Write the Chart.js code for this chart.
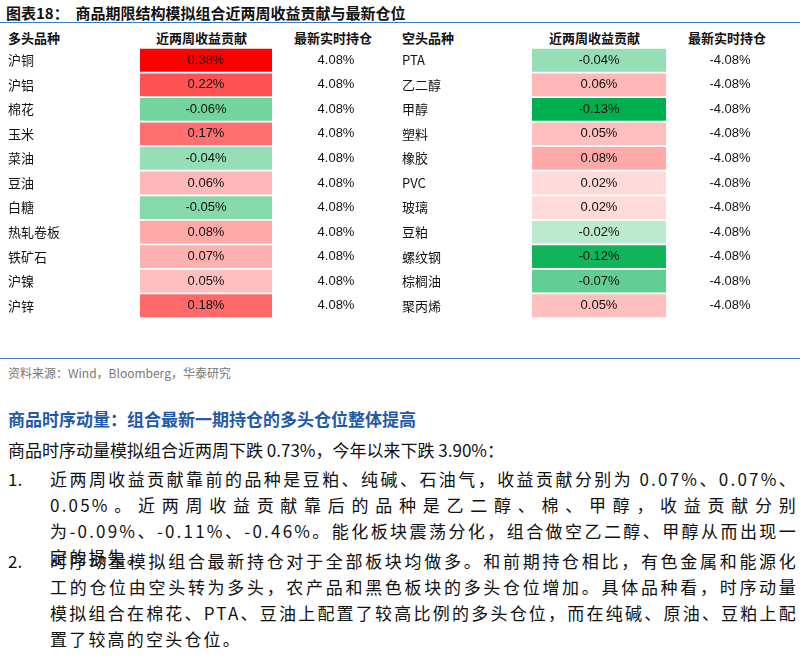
<!DOCTYPE html>
<html><head><meta charset="utf-8">
<script src="https://cdn.jsdelivr.net/npm/chart.js@4"></script>
<style>
body{margin:0;width:802px;height:663px;background:#fff;font-family:"Noto Sans CJK SC",sans-serif;position:relative;overflow:hidden}
.t{position:absolute;white-space:nowrap}
#title{left:6px;top:2px;font-size:15px;font-weight:bold;color:#111}
#tl{position:absolute;left:0;top:22px;width:800px;border-top:1.5px solid #3a7bbf}
.h{position:absolute;top:28px;font-size:13px;font-weight:bold;color:#111}
#cw{position:absolute;left:0;top:48px;width:802px;height:270px}
#sl{position:absolute;left:0;top:358px;width:800px;border-top:1px solid #4a7fc0}
#src{left:8px;top:364px;font-size:12px;color:#777}
#hd{left:8px;top:406px;font-size:17px;font-weight:bold;color:#1f5aa8}
.p{position:absolute;font-size:17px;color:#111;line-height:26px}
.j{letter-spacing:2.2px;text-align:justify}
</style></head><body>
<div class="t" id="title">图表18：&nbsp; 商品期限结构模拟组合近两周收益贡献与最新仓位</div>
<div id="tl"></div>
<div class="h" style="left:8px">多头品种</div>
<div class="h" style="left:156px">近两周收益贡献</div>
<div class="h" style="left:294px">最新实时持仓</div>
<div class="h" style="left:402px">空头品种</div>
<div class="h" style="left:549px">近两周收益贡献</div>
<div class="h" style="left:688px">最新实时持仓</div>
<div id="cw"><canvas id="c"></canvas></div>
<div id="sl"></div>
<div class="t" id="src">资料来源：Wind，Bloomberg，华泰研究</div>
<div class="t" id="hd">商品时序动量：组合最新一期持仓的多头仓位整体提高</div>
<div class="p" style="left:8px;top:437px">商品时序动量模拟组合近两周下跌 0.73%，今年以来下跌 3.90%：</div>
<div class="p" style="left:8px;top:466px">1.</div>
<div class="p j" style="left:50px;top:466px;width:748px">近两周收益贡献靠前的品种是豆粕、纯碱、石油气，收益贡献分别为 0.07%、0.07%、0.05%。近两周收益贡献靠后的品种是乙二醇、棉、甲醇，收益贡献分别为-0.09%、-0.11%、-0.46%。能化板块震荡分化，组合做空乙二醇、甲醇从而出现一定的损失。</div>
<div class="p" style="left:8px;top:548px">2.</div>
<div class="p j" style="left:50px;top:548px;width:748px">时序动量模拟组合最新持仓对于全部板块均做多。和前期持仓相比，有色金属和能源化工的仓位由空头转为多头，农产品和黑色板块的多头仓位增加。具体品种看，时序动量模拟组合在棉花、PTA、豆油上配置了较高比例的多头仓位，而在纯碱、原油、豆粕上配置了较高的空头仓位。</div>
<script>
const longNames=["沪铜","沪铝","棉花","玉米","菜油","豆油","白糖","热轧卷板","铁矿石","沪镍","沪锌"];
const longRet=[0.38,0.22,-0.06,0.17,-0.04,0.06,-0.05,0.08,0.07,0.05,0.18];
const longPos=["4.08%","4.08%","4.08%","4.08%","4.08%","4.08%","4.08%","4.08%","4.08%","4.08%","4.08%"];
const shortNames=["PTA","乙二醇","甲醇","塑料","橡胶","PVC","玻璃","豆粕","螺纹钢","棕榈油","聚丙烯"];
const shortRet=[-0.04,0.06,-0.13,0.05,0.08,0.02,0.02,-0.02,-0.12,-0.07,0.05];
const shortPos=["-4.08%","-4.08%","-4.08%","-4.08%","-4.08%","-4.08%","-4.08%","-4.08%","-4.08%","-4.08%","-4.08%"];
const rows=longNames.map((_,i)=>i);
function col(v){
  if(v>=0){const t=Math.min(1,Math.pow(v/0.38,0.75));return `rgb(255,${Math.round(245-245*t)},${Math.round(245-245*t)})`;}
  const t=Math.min(1,Math.pow(-v/0.13,0.9));
  return `rgb(${Math.round(230-230*t)},${Math.round(247-71*t)},${Math.round(236-156*t)})`;
}
const fmt=v=>v.toFixed(2)+"%";
const textPlugin={id:'txt',afterDatasetsDraw(ch){
  const c=ch.ctx,x=ch.scales.x,y=ch.scales.y;
  c.save();c.textBaseline='middle';c.fillStyle='#111';
  rows.forEach(i=>{
    const yy=y.getPixelForValue(i);
    c.font='13px "Noto Sans CJK SC"';c.textAlign='left';
    c.fillText(longNames[i],x.getPixelForValue(8),yy);
    c.fillText(shortNames[i],x.getPixelForValue(402),yy);
    c.font='13px Arial, "Liberation Sans"';c.textAlign='center';
    c.fillText(fmt(longRet[i]),x.getPixelForValue(206),yy);
    c.fillText(longPos[i],x.getPixelForValue(336),yy);
    c.fillText(fmt(shortRet[i]),x.getPixelForValue(599),yy);
    c.fillText(shortPos[i],x.getPixelForValue(730),yy);
  });
  c.restore();
}};
new Chart(document.getElementById('c'),{type:'bar',
  data:{labels:rows,datasets:[
    {data:rows.map(()=>[140,272]),backgroundColor:longRet.map(col),barPercentage:0.93,categoryPercentage:1,grouped:false},
    {data:rows.map(()=>[532,666]),backgroundColor:shortRet.map(col),barPercentage:0.93,categoryPercentage:1,grouped:false}]},
  options:{indexAxis:'y',responsive:true,maintainAspectRatio:false,animation:false,
    layout:{padding:0},
    plugins:{legend:{display:false},tooltip:{enabled:false}},
    scales:{x:{type:'linear',min:0,max:802,display:false},y:{display:false}}},
  plugins:[textPlugin]});
</script>
</body></html>
